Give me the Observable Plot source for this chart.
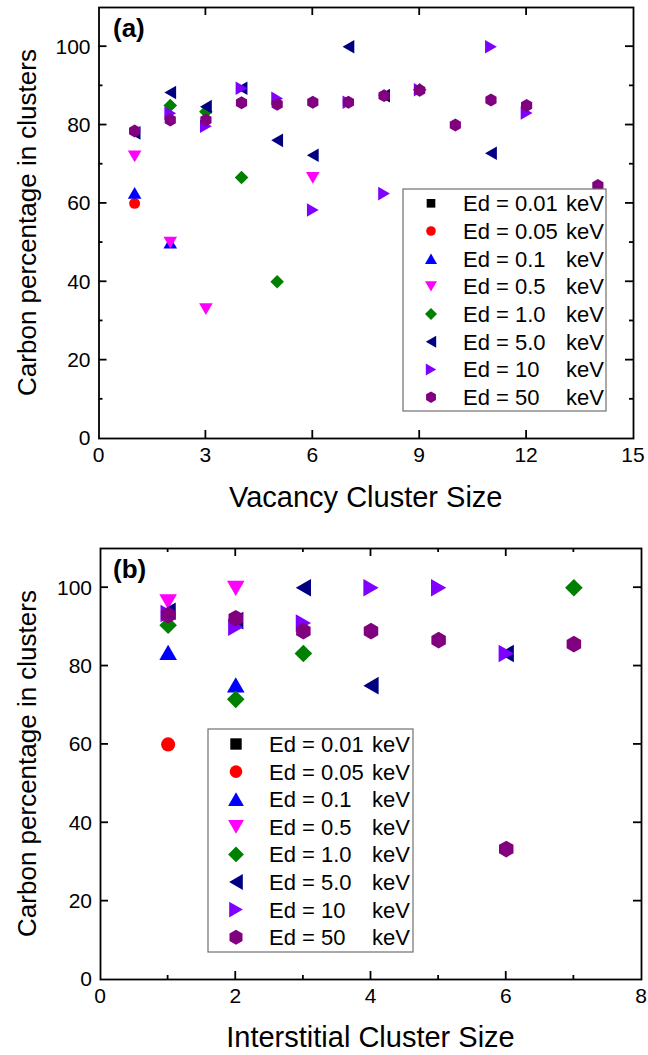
<!DOCTYPE html>
<html><head><meta charset="utf-8">
<script src="https://cdn.jsdelivr.net/npm/d3@7"></script>
<script src="https://cdn.jsdelivr.net/npm/@observablehq/plot@0.6"></script>
<style>
html,body{margin:0;padding:0;background:#fff;}
#chart{width:648px;}
#chart svg{display:block;}
</style></head><body><div id="chart"></div>
<script>
// ---------------- data ----------------
const seriesEnergies = ["0.01", "0.05", "0.1", "0.5", "1.0", "5.0", "10", "50"];
const seriesNames = seriesEnergies.map(e => "Ed = " + e);

// Panel (a): vacancy cluster size vs carbon percentage  [size, %]
const vac_001 = [];
const vac_005 = [[1, 60]];
const vac_01  = [[1, 62.7], [2, 50]];
const vac_05  = [[1, 72], [2, 50], [3, 33], [6, 66.5]];
const vac_10  = [[2, 85], [3, 83.4], [4, 66.6], [5, 40], [9, 89]];
const vac_50  = [[1, 78], [2, 88.3], [3, 84.7], [4, 89.4], [5, 76.1], [6, 72.3], [7, 100], [8, 87.5], [11, 72.8]];
const vac_100 = [[2, 83], [3, 79.7], [4, 89.4], [5, 86.8], [6, 58.3], [7, 85.8], [8, 62.5], [9, 89], [11, 100], [12, 83.1]];
const vac_500 = [[1, 78.5], [2, 81.3], [3, 81.3], [4, 85.7], [5, 85.3], [6, 85.8], [7, 85.8], [8, 87.5], [9, 88.9], [10, 80], [11, 86.4], [12, 85], [14, 64.6]];

// Panel (b): interstitial cluster size vs carbon percentage  [size, %]
const int_001 = [];
const int_005 = [[1, 60]];
const int_01  = [[1, 83.5], [2, 75.2]];
const int_05  = [[1, 96.4], [2, 99.8]];
const int_10  = [[1, 90.4], [2, 71.5], [3, 83.2], [7, 100]];
const int_50  = [[1, 94], [2, 91.6], [3, 100], [4, 75], [6, 83.2]];
const int_100 = [[1, 93.4], [2, 89.9], [3, 91], [4, 100], [5, 100], [6, 83.2]];
const int_500 = [[1, 93], [2, 92.2], [3, 88.9], [4, 88.9], [5, 86.6], [6, 33.3], [7, 85.6]];

// axis ticks
const vacXTicks = [0, 3, 6, 9, 12, 15];
const intXTicks = [0, 2, 4, 6, 8];
const yTicks = [0, 20, 40, 60, 80, 100];

// ---------------- styles ----------------
const seriesColors = ["#000000", "#FF0000", "#0000FF", "#FF00FF", "#008000", "#000080", "#8000FF", "#800080"];
function sym(fn) { return {draw(ctx, size) { const h = Math.sqrt(size / Math.PI); fn(ctx, h); }}; }
function poly(ctx, pts) { ctx.moveTo(pts[0][0], pts[0][1]); for (let i = 1; i < pts.length; i++) ctx.lineTo(pts[i][0], pts[i][1]); ctx.closePath(); }
const T = 0.866;
const symSquare = sym((c, h) => { const s = 0.72 * h; poly(c, [[-s, -s], [s, -s], [s, s], [-s, s]]); });
const symCircle = sym((c, h) => { const r = 0.8 * h; c.moveTo(r, 0); c.arc(0, 0, r, 0, 2 * Math.PI); c.closePath(); });
const symUp = sym((c, h) => poly(c, [[0, -T * h], [h, T * h], [-h, T * h]]));
const symDown = sym((c, h) => poly(c, [[0, T * h], [h, -T * h], [-h, -T * h]]));
const symLeft = sym((c, h) => poly(c, [[-T * h, 0], [T * h, -h], [T * h, h]]));
const symRight = sym((c, h) => poly(c, [[T * h, 0], [-T * h, -h], [-T * h, h]]));
const symDiamond = sym((c, h) => poly(c, [[0, -h], [h, 0], [0, h], [-h, 0]]));
const symHex = sym((c, h) => { const R = 0.95 * h, p = []; for (let k = 0; k < 6; k++) { const a = -Math.PI / 2 + k * Math.PI / 3; p.push([R * Math.cos(a), R * Math.sin(a)]); } poly(c, p); });
const seriesSymbols = [symSquare, symCircle, symUp, symDown, symDiamond, symLeft, symRight, symHex];

const FONT = "Liberation Sans, Arial, Helvetica, sans-serif";

const panels = [
  {
    series: [vac_001, vac_005, vac_01, vac_05, vac_10, vac_50, vac_100, vac_500],
    xDomain: [0, 15], xTicks: vacXTicks, xMajor: [3, 6, 9, 12], xMinor: [],
    yMajor: [20, 40, 60, 80, 100], yMinor: [10, 30, 50, 70, 90],
    width: 648, height: 530, mt: 7, mr: 15, mb: 92, ml: 98.5,
    xTitle: "Vacancy Cluster Size", xTitleY: 507, yTitleX: 36, label: "(a)", labelX: 113, labelY: 37,
    h: 6.8,
    leg: {x: 403, y: 189, w: 203, h: 222, row0: 203.3, dy: 27.7, symX: 431, textX: 463, kevX: 566, sh: 6.0}
  },
  {
    series: [int_001, int_005, int_01, int_05, int_10, int_50, int_100, int_500],
    xDomain: [0, 8], xTicks: intXTicks, xMajor: [2, 4, 6], xMinor: [1, 3, 5, 7],
    yMajor: [20, 40, 60, 80, 100], yMinor: [],
    width: 648, height: 525, mt: 18, mr: 7, mb: 76, ml: 100,
    xTitle: "Interstitial Cluster Size", xTitleY: 517, yTitleX: 36, label: "(b)", labelX: 113, labelY: 48,
    h: 8.8,
    leg: {x: 208, y: 199, w: 205, h: 223, row0: 214, dy: 27.6, symX: 236, textX: 269, kevX: 372, sh: 7.9}
  }
];

const chart = document.getElementById("chart");
for (const P of panels) {
  const marks = [];
  P.series.forEach((data, i) => {
    marks.push(Plot.dot(data, {x: d => d[0], y: d => d[1], symbol: seriesSymbols[i], fill: seriesColors[i], r: P.h}));
  });
  marks.push(Plot.frame({stroke: "black", strokeWidth: 1.8}));
  const svg = Plot.plot({
    width: P.width, height: P.height,
    marginTop: P.mt, marginRight: P.mr, marginBottom: P.mb, marginLeft: P.ml,
    x: {domain: P.xDomain, axis: null},
    y: {domain: [0, 110], axis: null},
    style: {fontFamily: FONT, color: "black", background: "white"},
    marks
  });

  const X = v => svg.scale("x").apply(v), Y = v => svg.scale("y").apply(v);
  const left = P.ml, right = P.width - P.mr, top = P.mt, bottom = P.height - P.mb;
  const g = d3.select(svg).append("g").attr("stroke", "black").attr("stroke-width", 1.8);
  const tick = (x1, y1, x2, y2) => g.append("line").attr("x1", x1).attr("y1", y1).attr("x2", x2).attr("y2", y2);
  for (const v of P.xMajor) { tick(X(v), bottom, X(v), bottom - 8); tick(X(v), top, X(v), top + 8); }
  for (const v of P.xMinor) { tick(X(v), bottom, X(v), bottom - 4); tick(X(v), top, X(v), top + 4); }
  for (const v of P.yMajor) { tick(left, Y(v), left + 8, Y(v)); tick(right, Y(v), right - 8, Y(v)); }
  for (const v of P.yMinor) { tick(left, Y(v), left + 4, Y(v)); tick(right, Y(v), right - 4, Y(v)); }

  const t = d3.select(svg).append("g").attr("font-family", FONT).attr("fill", "black");
  // tick labels from the scales
  for (const v of P.xTicks) {
    t.append("text").attr("x", X(v)).attr("y", bottom + 9).attr("dy", "0.71em").attr("text-anchor", "middle").attr("font-size", 21).text(v);
  }
  for (const v of yTicks) {
    t.append("text").attr("x", left - 8).attr("y", Y(v)).attr("dy", "0.35em").attr("text-anchor", "end").attr("font-size", 21).text(v);
  }
  t.append("text").attr("x", (left + right) / 2).attr("y", P.xTitleY).attr("text-anchor", "middle").attr("font-size", 29).text(P.xTitle);
  t.append("text").attr("transform", `translate(${P.yTitleX},${(top + bottom) / 2}) rotate(-90)`).attr("text-anchor", "middle").attr("font-size", 26).text("Carbon percentage in clusters");
  t.append("text").attr("x", P.labelX).attr("y", P.labelY).attr("text-anchor", "start").attr("font-size", 26).attr("font-weight", "bold").text(P.label);

  // legend
  const L = P.leg;
  const lg = d3.select(svg).append("g").attr("font-family", FONT).attr("text-anchor", "start");
  lg.append("rect").attr("x", L.x).attr("y", L.y).attr("width", L.w).attr("height", L.h).attr("fill", "white").attr("stroke", "#707070").attr("stroke-width", 1.2);
  seriesNames.forEach((name, i) => {
    const yy = L.row0 + i * L.dy;
    lg.append("path").attr("transform", `translate(${L.symX},${yy})`).attr("fill", seriesColors[i])
      .attr("d", d3.symbol().type(seriesSymbols[i]).size(Math.PI * L.sh * L.sh)());
    lg.append("text").attr("x", L.textX).attr("y", yy).attr("dy", "0.36em").attr("text-anchor", "start").attr("font-size", 22).text(name);
    lg.append("text").attr("x", L.kevX).attr("y", yy).attr("dy", "0.36em").attr("text-anchor", "start").attr("font-size", 22).text("keV");
  });
  chart.appendChild(svg);
}
</script>
</body></html>
